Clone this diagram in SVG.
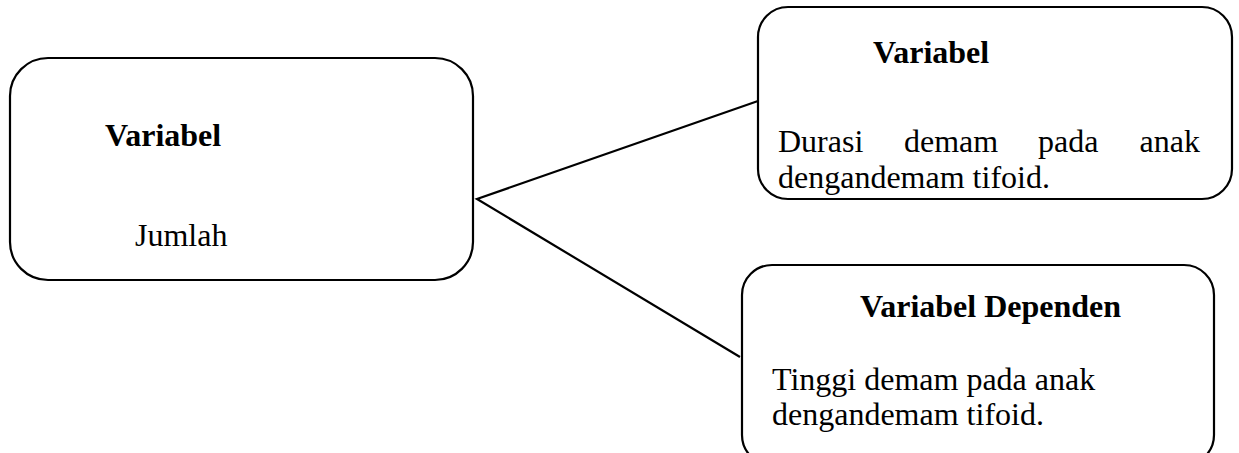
<svg xmlns="http://www.w3.org/2000/svg" width="1239" height="453" viewBox="0 0 1239 453">
<style>
.box{fill:#fff;stroke:#000;stroke-width:2.2}
.t{font-family:"Liberation Serif","Times New Roman",serif;font-size:32px;fill:#000}
.b{font-weight:bold}
.conn{stroke:#000;stroke-width:2.2;fill:none}
</style>
<rect width="1239" height="453" fill="#fff"/>
<g id="connectors">
<polyline class="conn" points="758,101 477,199 740,357"/>
</g>
<g id="node-left">
<rect class="box" x="10" y="58" width="463" height="222" rx="38" ry="38"/>
<text class="t b" x="105" y="146">Variabel</text>
<text class="t" x="135" y="246">Jumlah</text>
</g>
<g id="node-top-right">
<rect class="box" x="758" y="7" width="474" height="192" rx="30" ry="30"/>
<text class="t b" x="873" y="63">Variabel</text>
<text class="t"><tspan x="778" y="152">Durasi</tspan><tspan x="904" y="152">demam</tspan><tspan x="1038" y="152">pada</tspan><tspan x="1200" y="152" text-anchor="end">anak</tspan></text>
<text class="t" x="778" y="188">dengandemam tifoid.</text>
</g>
<g id="node-bottom-right">
<rect class="box" x="742" y="265" width="472" height="200" rx="30" ry="30"/>
<text class="t b" x="860" y="317">Variabel Dependen</text>
<text class="t" x="772" y="390">Tinggi demam pada anak</text>
<text class="t" x="772" y="425">dengandemam tifoid.</text>
</g>
</svg>
